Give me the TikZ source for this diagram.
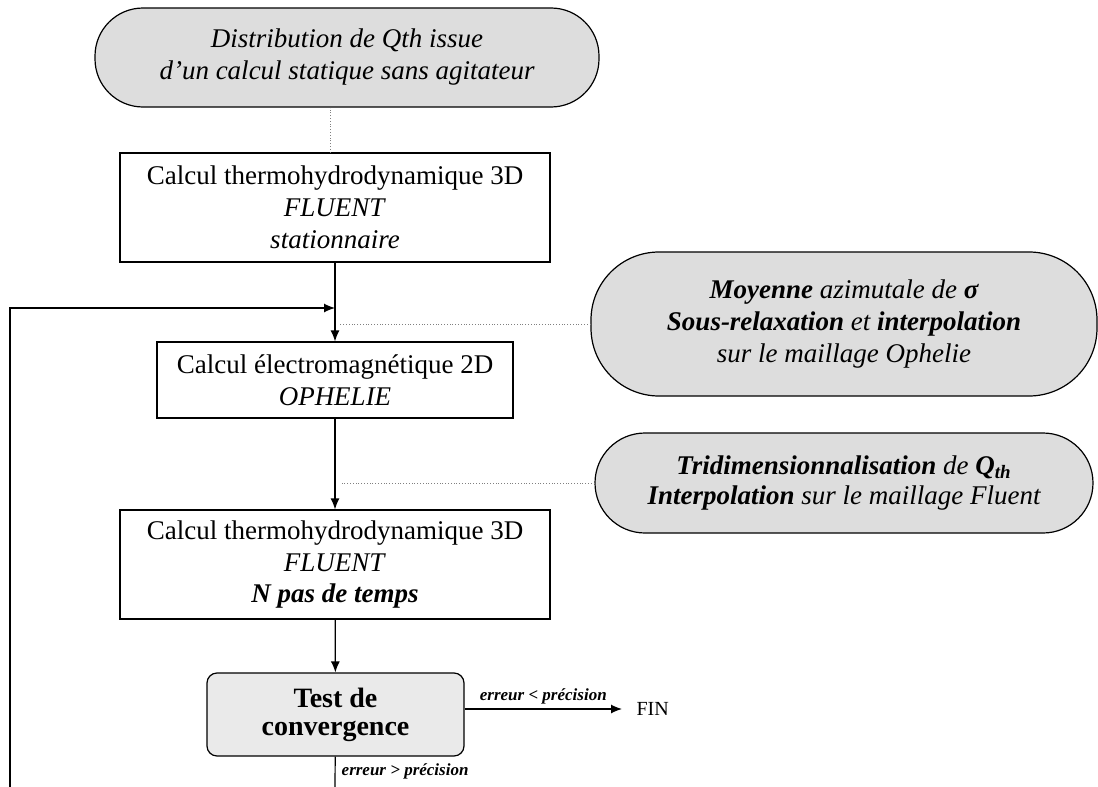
\documentclass[tikz,border=0pt]{standalone}
\usepackage{fontspec}
\setmainfont{Liberation Serif}
\usetikzlibrary{arrows.meta}
\definecolor{bulle}{RGB}{221,221,221}
\definecolor{fondtest}{RGB}{234,234,234}

\begin{document}
\begin{tikzpicture}[x=.5pt, y=-.5pt, >={Latex[length=5.5pt,width=4.5pt]}, line width=.6pt,
    every node/.style={font=\fontsize{13.5}{16}\selectfont, align=center, inner sep=0pt},
    stade/.style={draw, fill=bulle, rounded corners=#1},
    boite/.style={draw, minimum width=215pt, minimum height=54.5pt},
    note/.style={font=\fontsize{8.5}{9}\selectfont\bfseries\itshape},
    pointille/.style={densely dotted, line width=.4pt, gray}]
  \useasboundingbox (0,0) rectangle (1098,787);
  % les bulles grises
  \node[stade=24pt, minimum width=252pt, minimum height=49.5pt,
    font=\fontsize{13.5}{16}\selectfont\itshape] (distrib) at (347,57.5)
    {Distribution de Qth issue\\ d'un calcul statique sans agitateur};
  \node[stade=34pt, minimum width=253pt, minimum height=72pt,
    font=\fontsize{13.5}{16}\selectfont\itshape] (moy) at (844,324)
    {\textbf{Moyenne} azimutale de \textbf{σ}\\
     \textbf{Sous-relaxation} et \textbf{interpolation}\\ sur le maillage Ophelie};
  \node[stade=25pt, minimum width=249pt, minimum height=50pt,
    font=\fontsize{13.5}{15}\selectfont\itshape] (tridim) at (844,483)
    {\textbf{Tridimensionnalisation} de \textbf{Q\textsubscript{th}}\\
     \textbf{Interpolation} sur le maillage Fluent};
  % les calculs
  \node[boite] (stat) at (335,207.5)
    {Calcul thermohydrodynamique 3D\\ \textit{FLUENT}\\ \textit{stationnaire}};
  \node[boite, minimum width=178pt, minimum height=38pt] (elec) at (335,380)
    {Calcul électromagnétique 2D\\ \textit{OPHELIE}};
  \node[boite] (trans) at (335,564.5)
    {Calcul thermohydrodynamique 3D\\ \textit{FLUENT}\\ \textbf{\textit{N pas de temps}}};
  \node[draw, fill=fondtest, rounded corners=5pt, minimum width=128.5pt,
    minimum height=41.5pt, font=\fontsize{14}{14}\selectfont\bfseries] (test) at (335.5,714.5)
    {Test de\\ convergence};
  \node[anchor=west, inner xsep=7pt, font=\fontsize{10}{12}\selectfont] (fin) at (622,709) {FIN};
  \coordinate (retour) at (10,787); \coordinate (suite) at (335,787);
  \coordinate (jonction) at (335,308);

  \draw[->] (stat) -- (elec);
  \draw[->] (elec) -- (trans);
  \draw[->] (trans) -- (test);
  \draw[->] (test.east |- fin.west) -- node[note, above=2pt] {erreur < précision} (fin.west);
  \draw (test) -- node[note, right=3pt] {erreur > précision} (suite);
  \draw[->] (retour) |- (jonction);
  \draw[pointille] ([xshift=-2.5pt]stat.north) -- ([xshift=-2.5pt]stat.north |- distrib.south);
  \draw[pointille] (moy.west) -- ([xshift=2.5pt]moy.west -| stat.south);
  \draw[pointille] (tridim.west) -- ([xshift=2.5pt]tridim.west -| stat.south);
\end{tikzpicture}
\end{document}
